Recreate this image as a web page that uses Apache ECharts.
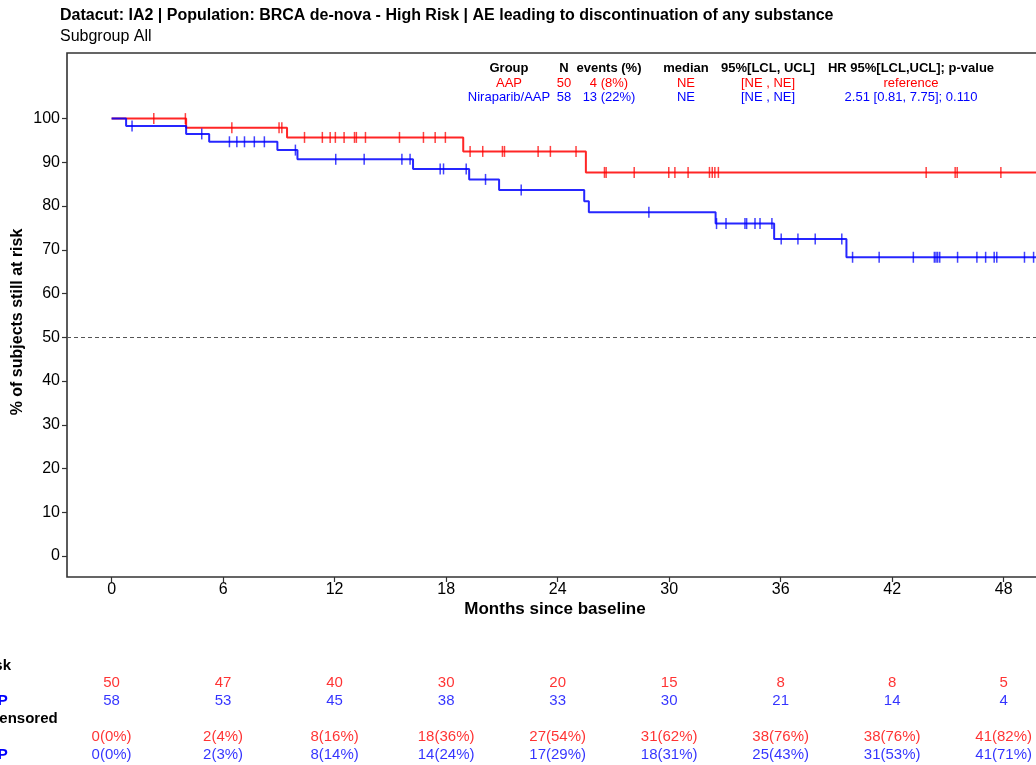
<!DOCTYPE html>
<html>
<head>
<meta charset="utf-8">
<script src="https://cdn.jsdelivr.net/npm/echarts@6/dist/echarts.min.js"></script>
<style>
  html, body { margin: 0; padding: 0; background: #fff; }
  #chart { width: 1036px; height: 765px; }
</style>
</head>
<body>
<div id="chart"></div>
<script>
// Kaplan-Meier steps (months, % still at risk)
const aapEventT = [0, 4.01, 9.44, 18.92, 25.52];
const aapSurv = [100, 97.9, 95.7, 92.5, 87.7];
const aapCensorT = [2.27, 3.97, 6.47, 9.01, 9.16, 10.38, 11.34, 11.76, 12.04, 12.51, 13.07, 13.17, 13.66,
  15.49, 16.78, 17.41, 17.96, 19.29, 19.97, 21.03, 21.14, 22.95, 23.61, 24.99, 26.52, 26.61, 28.12,
  29.98, 30.31, 31.02, 32.17, 32.32, 32.46, 32.65, 43.83, 45.39, 45.5, 47.85];

const niraEventT = [0, 0.78, 4.01, 5.25, 8.92, 10.0, 16.22, 19.24, 20.85, 25.43, 25.68, 32.5, 35.65, 39.54];
const niraSurv = [100, 98.3, 96.5, 94.7, 92.8, 90.7, 88.5, 86.1, 83.7, 81.1, 78.6, 76.0, 72.5, 68.3];
const niraCensorT = [1.1, 4.85, 6.34, 6.74, 7.15, 7.68, 8.22, 9.89, 12.06, 13.59, 15.62, 16.06, 17.68, 17.86,
  19.08, 20.12, 22.04, 28.91, 32.55, 33.06, 34.08, 34.17, 34.62, 34.89, 35.53, 36.03, 36.93, 37.86,
  39.29, 39.87, 41.3, 43.14, 44.27, 44.36, 44.45, 44.56, 45.52, 46.56, 47.03, 47.49, 47.63, 49.12, 49.61];

const lastT = 52;
const xTicks = [0, 6, 12, 18, 24, 30, 36, 42, 48];
const yTicks = [0, 10, 20, 30, 40, 50, 60, 70, 80, 90, 100];

// risk table under the plot
const riskRows = ['Number at risk', 'AAP', 'Niraparib/AAP', 'Cumulative censored', 'AAP', 'Niraparib/AAP'];
const aapAtRisk = [50, 47, 40, 30, 20, 15, 8, 8, 5];
const niraAtRisk = [58, 53, 45, 38, 33, 30, 21, 14, 4];
const aapCensored = ['0(0%)', '2(4%)', '8(16%)', '18(36%)', '27(54%)', '31(62%)', '38(76%)', '38(76%)', '41(82%)'];
const niraCensored = ['0(0%)', '2(3%)', '8(14%)', '14(24%)', '17(29%)', '18(31%)', '25(43%)', '31(53%)', '41(71%)'];

// summary table in the top right of the plot
const legendHead = ['Group', 'N', 'events (%)', 'median', '95%[LCL, UCL]', 'HR 95%[LCL,UCL]; p-value'];
const legendAAP = ['AAP', '50', '4 (8%)', 'NE', '[NE , NE]', 'reference'];
const legendNira = ['Niraparib/AAP', '58', '13 (22%)', 'NE', '[NE , NE]', '2.51 [0.81, 7.75]; 0.110'];
const legendColX = [509, 564, 609, 686, 768, 911];

const RED = '#ff0000';
const BLUE = '#0000ff';
const FONT = "'Liberation Sans', Arial, sans-serif";

const stepData = (times, surv) => {
  const d = times.map((t, i) => [t, surv[i]]);
  d.push([lastT, surv[surv.length - 1]]);
  return d;
};

const survAt = (times, surv, t) => {
  let v = surv[0];
  times.forEach((et, i) => { if (et <= t) v = surv[i]; });
  return v;
};

const censorData = (cts, times, surv) => cts.map(t => [t, survAt(times, surv, t)]);

const tableSeries = (values, row, color) => ({
  type: 'scatter',
  xAxisIndex: 1,
  yAxisIndex: 1,
  symbolSize: 1,
  itemStyle: {color: 'rgba(0,0,0,0)'},
  data: xTicks.map((t, i) => [t, row, values[i]]),
  label: {
    show: true,
    position: 'inside',
    formatter: p => String(p.data[2]),
    color: color,
    fontSize: 15,
    fontFamily: FONT,
  },
  silent: true,
});

const legendTexts = [];
[[legendHead, '#000', 'bold', 68], [legendAAP, RED, 'normal', 83], [legendNira, BLUE, 'normal', 97]]
  .forEach(([row, color, weight, y]) => {
    row.forEach((txt, i) => {
      legendTexts.push({
        type: 'text',
        x: legendColX[i],
        y: y,
        style: {
          text: txt,
          fill: color,
          font: weight + ' 13px ' + FONT,
          textAlign: 'center',
          textVerticalAlign: 'middle',
        },
      });
    });
  });

const rowColors = ['#000', RED, BLUE, '#000', RED, BLUE];

// plot box runs past the right edge of the page
const gridLeft = 67;
const gridWidth = 1011;

const chart = echarts.init(document.getElementById('chart'));
chart.setOption({
  animation: false,
  backgroundColor: '#fff',
  textStyle: {fontFamily: FONT},
  graphic: [
    {
      type: 'text', x: 60, y: 16,
      style: {text: 'Datacut: IA2 | Population: BRCA de-nova - High Risk | AE leading to discontinuation of any substance',
        font: 'bold 16px ' + FONT, fill: '#000', textVerticalAlign: 'middle'},
    },
    {
      type: 'text', x: 60, y: 37,
      style: {text: 'Subgroup All', font: '16px ' + FONT, fill: '#000', textVerticalAlign: 'middle'},
    },
    {
      type: 'text', x: 18, y: 322, rotation: Math.PI / 2,
      style: {text: '% of subjects still at risk', font: 'bold 16px ' + FONT, fill: '#000',
        textAlign: 'center', textVerticalAlign: 'middle'},
    },
    {
      type: 'text', x: 555, y: 609,
      style: {text: 'Months since baseline', font: 'bold 17px ' + FONT, fill: '#000',
        textAlign: 'center', textVerticalAlign: 'middle'},
    },
    ...legendTexts,
  ],
  grid: [
    {left: gridLeft, top: 53, width: gridWidth, bottom: 188, show: true, borderColor: '#333', borderWidth: 1.6,
      backgroundColor: 'transparent', outerBoundsMode: 'none', containLabel: false},
    {left: gridLeft, top: 656.6, width: gridWidth, height: 106.8, outerBoundsMode: 'none', containLabel: false},
  ],
  xAxis: [
    {
      type: 'value', min: -2.4, max: lastT, gridIndex: 0,
      splitLine: {show: false},
      axisLine: {show: false, onZero: false},
      axisTick: {show: true, length: 5, customValues: xTicks, lineStyle: {color: '#333', width: 1.2}},
      axisLabel: {customValues: xTicks, margin: 5, fontSize: 16, color: '#000', fontFamily: FONT},
    },
    {type: 'value', min: -2.4, max: lastT, gridIndex: 1, show: false},
  ],
  yAxis: [
    {
      type: 'value', min: -4.8, max: 115, gridIndex: 0,
      splitLine: {show: false},
      axisLine: {show: false, onZero: false},
      axisTick: {show: true, length: 5, customValues: yTicks, lineStyle: {color: '#333', width: 1.2}},
      axisLabel: {customValues: yTicks, margin: 7, fontSize: 16, color: '#000', fontFamily: FONT},
    },
    {
      type: 'category', gridIndex: 1, inverse: true, data: riskRows,
      axisLine: {show: false, onZero: false},
      axisTick: {show: false},
      axisLabel: {
        interval: 0, hideOverlap: false, align: 'left', margin: 161,
        fontSize: 15, fontWeight: 'bold', fontFamily: FONT,
        color: (v, i) => rowColors[i],
      },
    },
  ],
  series: [
    {
      name: 'AAP', type: 'line', step: 'end', data: stepData(aapEventT, aapSurv),
      showSymbol: false, lineStyle: {color: RED, width: 2, opacity: 0.85}, z: 3,
      markLine: {
        silent: true, symbol: 'none', label: {show: false},
        lineStyle: {color: '#555', type: [4, 3], width: 1.2},
        data: [{yAxis: 50}],
      },
    },
    {
      name: 'Niraparib/AAP', type: 'line', step: 'end', data: stepData(niraEventT, niraSurv),
      showSymbol: false, lineStyle: {color: BLUE, width: 2, opacity: 0.85}, z: 4,
    },
    {
      type: 'scatter', data: censorData(aapCensorT, aapEventT, aapSurv),
      symbol: 'rect', symbolSize: [1.5, 11], itemStyle: {color: RED, opacity: 0.75}, z: 5, silent: true,
    },
    {
      type: 'scatter', data: censorData(niraCensorT, niraEventT, niraSurv),
      symbol: 'rect', symbolSize: [1.5, 11], itemStyle: {color: BLUE, opacity: 0.75}, z: 6, silent: true,
    },
    tableSeries(aapAtRisk, 1, RED),
    tableSeries(niraAtRisk, 2, BLUE),
    tableSeries(aapCensored, 4, RED),
    tableSeries(niraCensored, 5, BLUE),
  ],
});
</script>
</body>
</html>
